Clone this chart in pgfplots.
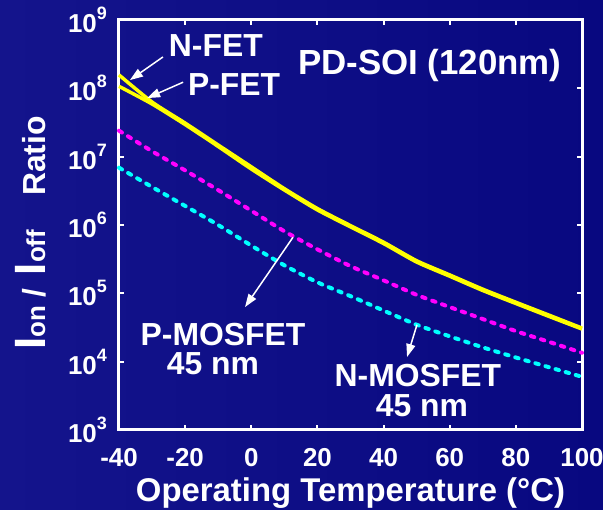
\documentclass[border=0pt]{standalone}
\usepackage{fontspec}
\setmainfont{Liberation Sans}
\usepackage{pgfplots}
\pgfplotsset{compat=1.18}
\usetikzlibrary{arrows.meta,backgrounds}

\definecolor{bgleft}{RGB}{20,20,140}
\definecolor{bgmid}{RGB}{0,0,118}
\definecolor{bgright}{RGB}{8,8,128}
\definecolor{fetyellow}{RGB}{255,255,0}
\definecolor{pmos}{RGB}{255,0,255}
\definecolor{nmos}{RGB}{0,255,255}

\newcommand{\decade}[1]{10\raisebox{13bp}{\fontsize{18}{18}\selectfont #1}}

\begin{document}
\begin{tikzpicture}[font=\bfseries]
\begin{axis}[
  scale only axis,
  width=463bp, height=410bp,
  xmin=-40, xmax=100,
  ymode=log, ymin=1e3, ymax=1e9,
  clip=false,
  xtick={-40,-20,0,20,40,60,80,100},
  xticklabels={-40,-20,0,20,40,60,80,100},
  ytick={1e3,1e4,1e5,1e6,1e7,1e8,1e9},
  yticklabels={\decade{3},\decade{4},\decade{5},\decade{6},\decade{7},\decade{8},\decade{9}},
  yminorticks=false,
  axis line style={white, line width=3bp},
  tick style={white, line width=2bp},
  major tick length=5bp,
  tick align=inside,
  xticklabel style={font=\fontsize{26}{26}\selectfont\bfseries, text=white, inner sep=0pt},
  yticklabel style={font=\fontsize{26}{26}\selectfont\bfseries, text=white, inner sep=0pt},
  xticklabel shift=18bp,
  yticklabel shift=12bp,
  xlabel={Operating Temperature (°C)},
  xlabel style={font=\fontsize{33}{33}\selectfont\bfseries, text=white,
    at={(axis description cs:0.5,-0.1537)}, anchor=center},
  ylabel={\fontsize{44}{44}\selectfont I\fontsize{26}{26}\selectfont on\hspace{8bp}\fontsize{32}{32}\selectfont /\hspace{14bp}\fontsize{44}{44}\selectfont I\fontsize{26}{26}\selectfont off\hspace{34bp}\fontsize{32}{32}\selectfont Ratio},
  ylabel style={text=white, at={(axis description cs:-0.1598,0.4805)}, anchor=base, rotate=0},
]

% PD-SOI N-FET
\addplot[fetyellow, line width=3.5bp, smooth, tension=0.4] coordinates {
  (-40,1.57e8) (-30,6.3e7) (-20,3.1e7) (-10,1.48e7) (0,7.1e6) (10,3.4e6)
  (20,1.74e6) (30,9.8e5) (40,5.6e5) (50,3.0e5) (60,1.86e5) (70,1.15e5)
  (80,7.4e4) (90,4.8e4) (100,3.1e4)};
% PD-SOI P-FET
\addplot[fetyellow, line width=3.5bp, smooth, tension=0.4] coordinates {
  (-40,1.07e8) (-30,5.9e7) (-20,2.95e7) (-10,1.41e7) (0,6.6e6) (10,3.25e6)
  (20,1.66e6) (30,9.4e5) (40,5.35e5) (50,2.87e5) (60,1.78e5) (70,1.1e5)
  (80,7.1e4) (90,4.6e4) (100,3.0e4)};
% 45 nm P-MOSFET
\addplot[pmos, line width=4bp, line cap=round, dash pattern=on 3.5bp off 7bp, smooth, tension=0.4] coordinates {
  (-40,2.4e7) (-30,1.2e7) (-20,6.3e6) (-10,3.24e6) (0,1.62e6) (10,8.1e5)
  (20,4.4e5) (30,2.5e5) (40,1.55e5) (50,9.5e4) (60,6.3e4) (70,4.2e4)
  (80,2.8e4) (90,1.95e4) (100,1.35e4)};
% 45 nm N-MOSFET
\addplot[nmos, line width=4bp, line cap=round, dash pattern=on 3.5bp off 7bp, smooth, tension=0.4] coordinates {
  (-40,6.9e6) (-30,3.6e6) (-20,1.9e6) (-10,1.0e6) (0,5.0e5) (10,2.57e5)
  (20,1.45e5) (30,9.1e4) (40,5.6e4) (50,3.47e4) (60,2.35e4) (70,1.62e4)
  (80,1.15e4) (90,8.3e3) (100,6.0e3)};

% annotations
\tikzset{lbl/.style={text=white, inner sep=0pt, font=\fontsize{32}{32}\selectfont\bfseries},
         ann/.style={white, line width=1.5bp, -{Triangle[length=13bp,width=9bp]}}}
\node[lbl] at (axis cs:-10.7,4.17e8) {N-FET};
\draw[ann] (axis cs:-26.7,2.88e8) -- (axis cs:-36.7,1.32e8);
\node[lbl] at (axis cs:-5.2,1.12e8) {P-FET};
\draw[ann] (axis cs:-20.6,1.23e8) -- (axis cs:-31.5,7.2e7);
\node[lbl, font=\fontsize{35}{35}\selectfont\bfseries] at (axis cs:54,2.14e8) {PD-SOI (120nm)};
\node[lbl] at (axis cs:-8.55,2.5e4) {P-MOSFET};
\node[lbl] at (axis cs:-11.6,9.3e3) {45 nm};
\draw[ann] (axis cs:12.6,6.6e5) -- (axis cs:-1.9,6.3e4);
\node[lbl] at (axis cs:50.4,6.2e3) {N-MOSFET};
\node[lbl] at (axis cs:51.6,2.3e3) {45 nm};
\draw[ann] (axis cs:50.1,3.47e4) -- (axis cs:47.1,1.17e4);
\end{axis}
\begin{scope}[on background layer]
  \shade[left color=bgleft, middle color=bgmid, right color=bgright]
    (-119bp,-80bp) rectangle (484bp,430bp);
\end{scope}
\pgfresetboundingbox
\path[use as bounding box] (-119bp,-80bp) rectangle (484bp,430bp);
\end{tikzpicture}
\end{document}
